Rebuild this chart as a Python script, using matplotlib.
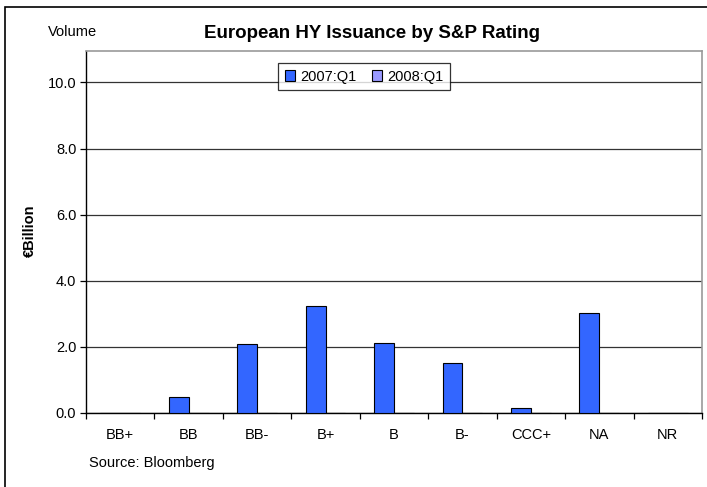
import numpy as np
import matplotlib
matplotlib.use("Agg")
from matplotlib import pyplot as plt
from matplotlib.patches import Rectangle

ratings = ["BB+", "BB", "BB-", "B+", "B", "B-", "CCC+", "NA", "NR"]
q1_2007 = [0.0, 0.48, 2.1, 3.25, 2.13, 1.5, 0.16, 3.03, 0.0]
q1_2008 = [0.0, 0.0, 0.0, 0.0, 0.0, 0.0, 0.0, 0.0, 0.0]
series_labels = ["2007:Q1", "2008:Q1"]
y_ticks = [0.0, 2.0, 4.0, 6.0, 8.0, 10.0]

plt.rcParams['font.family'] = ['Liberation Sans', 'DejaVu Sans']

W, H = 707, 487
fig = plt.figure(figsize=(W / 100, H / 100), dpi=100)

# outer chart frame (only left and top edges fall inside the image)
fig.patches.append(Rectangle((5 / W, -0.05), 1.1, 1.05 - 7 / H, transform=fig.transFigure,
                             fill=False, edgecolor='black', linewidth=1.2))

ax = fig.add_axes([86 / W, 1 - 413 / H, (702 - 86) / W, (413 - 51) / H])

x = np.arange(len(ratings))
bw = 0.29
ax.bar(x - bw / 2, q1_2007, bw, color='#3366FF', edgecolor='black', linewidth=0.8,
       label=series_labels[0], zorder=3)
ax.bar(x + bw / 2, q1_2008, bw, color='#9999FF', edgecolor='black', linewidth=0.8,
       label=series_labels[1], zorder=3)

ax.set_xlim(-0.5, len(ratings) - 0.5)
ax.set_ylim(0, 10.95)
ax.set_yticks(y_ticks)
ax.set_yticklabels([f"{v:.1f}" for v in y_ticks], fontsize=10.5)
ax.yaxis.grid(True, color='#333333', linewidth=0.9, zorder=0)

ax.set_xticks(x)
ax.set_xticklabels(ratings, fontsize=10.5)
ax.tick_params(axis='x', length=0, pad=11)
ax.set_xticks(np.arange(len(ratings) + 1) - 0.5, minor=True)
ax.tick_params(axis='x', which='minor', length=4, width=0.9, color='black')
ax.tick_params(axis='y', length=4, width=0.9, direction='out', pad=3)

for side in ['top', 'right']:
    ax.spines[side].set_color('#999999')
    ax.spines[side].set_linewidth(1.2)
for side in ['left', 'bottom']:
    ax.spines[side].set_color('black')
    ax.spines[side].set_linewidth(1.0)

leg = ax.legend(loc='upper left', bbox_to_anchor=((278 - 86) / (702 - 86), (413 - 63) / (413 - 51)),
                ncol=2, fontsize=10.5, frameon=True, fancybox=False, handlelength=0.7,
                handleheight=0.7, handletextpad=0.35, columnspacing=1.1,
                borderpad=0.45, borderaxespad=0)
leg.get_frame().set_edgecolor('black')
leg.get_frame().set_linewidth(0.9)

fig.text(372 / W, 1 - 33 / H, "European HY Issuance by S&P Rating", ha='center', va='center',
         fontsize=13.5, fontweight='bold')
fig.text(72 / W, 1 - 32 / H, "Volume", ha='center', va='center', fontsize=10.5)
fig.text(30 / W, 1 - 231 / H, "€Billion", ha='center', va='center', rotation=90,
         fontsize=10.5, fontweight='bold')
fig.text(89 / W, 1 - 463 / H, "Source: Bloomberg", ha='left', va='center', fontsize=10.5)

fig.savefig("out.png", dpi=100)
